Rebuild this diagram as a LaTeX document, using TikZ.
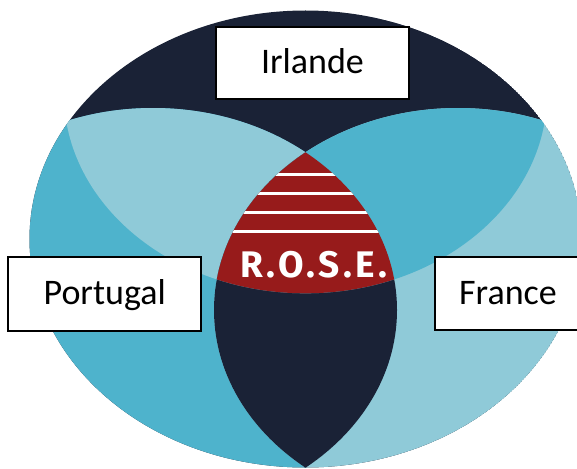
\documentclass[tikz,border=0pt]{standalone}
\usepackage{fontspec}
\setmainfont{Carlito}
\newfontfamily\rosefont[LetterSpace=9]{Fira Sans}
\definecolor{navy}{HTML}{1A2236}
\definecolor{lightblue}{HTML}{8FCAD8}
\definecolor{midblue}{HTML}{4EB3CC}
\definecolor{rosered}{HTML}{971B1B}
\tikzset{
  outerpath/.style={insert path={(305.5,239) ellipse [x radius=276pt, y radius=228.5pt]}},
  tpath/.style={insert path={(305.5,93.3) ellipse [x radius=241.6pt, y radius=200pt]}},
  lpath/.style={insert path={(153,310) ellipse [x radius=244pt, y radius=202pt]}},
  rpath/.style={insert path={(458,310) ellipse [x radius=244pt, y radius=202pt]}},
  labelbox/.style={draw=black, line width=1.8pt, fill=white, inner sep=0pt,
    text height=21pt, text depth=0pt, font=\fontsize{36}{40}\selectfont},
  stripe/.style={white, line width=3.3pt}
}
\begin{document}
\begin{tikzpicture}[x=1pt,y=-1pt]
\useasboundingbox (0,0) rectangle (577,468);
\begin{scope}
  \clip[outerpath];
  \fill[navy,outerpath];
  \fill[midblue,lpath];
  \fill[lightblue,rpath];
  \begin{scope}
    \clip[lpath];
    \fill[lightblue,tpath];
    \fill[navy,rpath];
  \end{scope}
  \begin{scope}
    \clip[rpath];
    \fill[midblue,tpath];
  \end{scope}
  \begin{scope}
    \clip[lpath];
    \clip[rpath];
    \clip[tpath];
    \fill[rosered,outerpath];
    \foreach \yy in {174.3,193.3,212.7,231.7}
      \draw[stripe] (200,\yy) -- (410,\yy);
  \end{scope}
\end{scope}
\node[text=white, anchor=base, inner sep=0pt,
  font=\rosefont\bfseries\fontsize{37}{40}\selectfont] (rose) at (314,277.7) {R.O.S.E.};
\node[labelbox, minimum width=193.6pt, minimum height=72.6pt] (irl) at (312.5,63) {Irlande};
\node[labelbox, minimum width=192.7pt, minimum height=73.7pt] (por) at (104.7,294.2) {Portugal};
\node[labelbox, minimum width=146pt, minimum height=72.7pt] (fra) at (508,293.7) {France};
\end{tikzpicture}
\end{document}
